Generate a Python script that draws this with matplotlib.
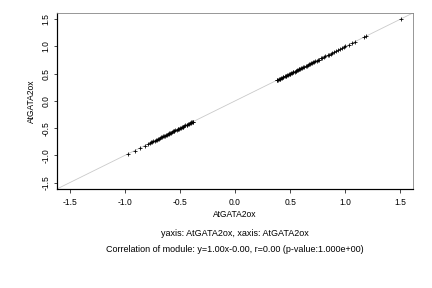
import numpy as np
import matplotlib
matplotlib.use("Agg")
import matplotlib.pyplot as plt

plt.rcParams['font.family'] = ['Liberation Sans', 'DejaVu Sans']

# expression values of the module gene (same gene on both axes)
neg_vals = [-0.97, -0.91, -0.86, -0.82, -0.79, -0.775, -0.76, -0.75, -0.74, -0.73,
            -0.72, -0.71, -0.70, -0.69, -0.68, -0.67, -0.66, -0.65, -0.64, -0.635,
            -0.63, -0.62, -0.61, -0.60, -0.595, -0.59, -0.58, -0.57, -0.56, -0.555,
            -0.55, -0.54, -0.53, -0.52, -0.515, -0.51, -0.50, -0.49, -0.48, -0.475,
            -0.47, -0.46, -0.45, -0.44, -0.435, -0.43, -0.42, -0.41, -0.40, -0.395,
            -0.39, -0.385, -0.38]
pos_vals = [0.38, 0.385, 0.39, 0.40, 0.405, 0.41, 0.42, 0.43, 0.435, 0.44, 0.45,
            0.46, 0.465, 0.47, 0.48, 0.49, 0.495, 0.50, 0.51, 0.52, 0.525, 0.53,
            0.54, 0.55, 0.555, 0.56, 0.57, 0.58, 0.585, 0.59, 0.60, 0.61, 0.62,
            0.63, 0.64, 0.65, 0.66, 0.67, 0.68, 0.69, 0.70, 0.71, 0.72, 0.73,
            0.74, 0.75, 0.76, 0.78, 0.79, 0.81, 0.82, 0.84, 0.85, 0.87, 0.88,
            0.90, 0.92, 0.93, 0.95, 0.97, 0.99, 1.00, 1.03, 1.06, 1.09, 1.17,
            1.19, 1.51]
gene_x = np.array(neg_vals + pos_vals)
gene_y = np.array(neg_vals + pos_vals)

lim = 1.615
ticks = [-1.5, -1.0, -0.5, 0.0, 0.5, 1.0, 1.5]

fig = plt.figure(figsize=(6, 4), dpi=72)
ax = fig.add_axes([0.132, 0.344, 0.824, 0.611])

ax.plot([-lim, lim], [-lim, lim], color='#c8c8c8', lw=0.8, zorder=1)
ax.scatter(gene_x, gene_y, marker='+', s=18, color='black', linewidths=0.8, zorder=2)

ax.set_xlim(-lim, lim)
ax.set_ylim(-lim, lim)
ax.set_xticks(ticks)
ax.set_yticks(ticks)
ax.set_xticklabels(['%.1f' % t for t in ticks], fontsize=8.5)
ax.set_yticklabels(['%.1f' % t for t in ticks], fontsize=8.5, rotation=90, va='center')
ax.tick_params(direction='out', length=3.5, width=0.7)
ax.tick_params(axis='x', pad=6)
ax.tick_params(axis='y', pad=3)

for s in ['top', 'right']:
    ax.spines[s].set_color('#808080')
for s in ['left', 'bottom']:
    ax.spines[s].set_color('black')
    ax.spines[s].set_linewidth(1.2)

ax.set_xlabel('AtGATA2ox', fontsize=8.5, labelpad=3)
ax.set_ylabel('AtGATA2ox', fontsize=8.5, labelpad=6)

fig.text(0.544, 1 - 233 / 288, 'yaxis: AtGATA2ox, xaxis: AtGATA2ox', fontsize=9, ha='center', va='center')
fig.text(0.544, 1 - 250 / 288, 'Correlation of module: y=1.00x-0.00, r=0.00 (p-value:1.000e+00)',
         fontsize=9, ha='center', va='center')

fig.savefig('out.png', dpi=72)
